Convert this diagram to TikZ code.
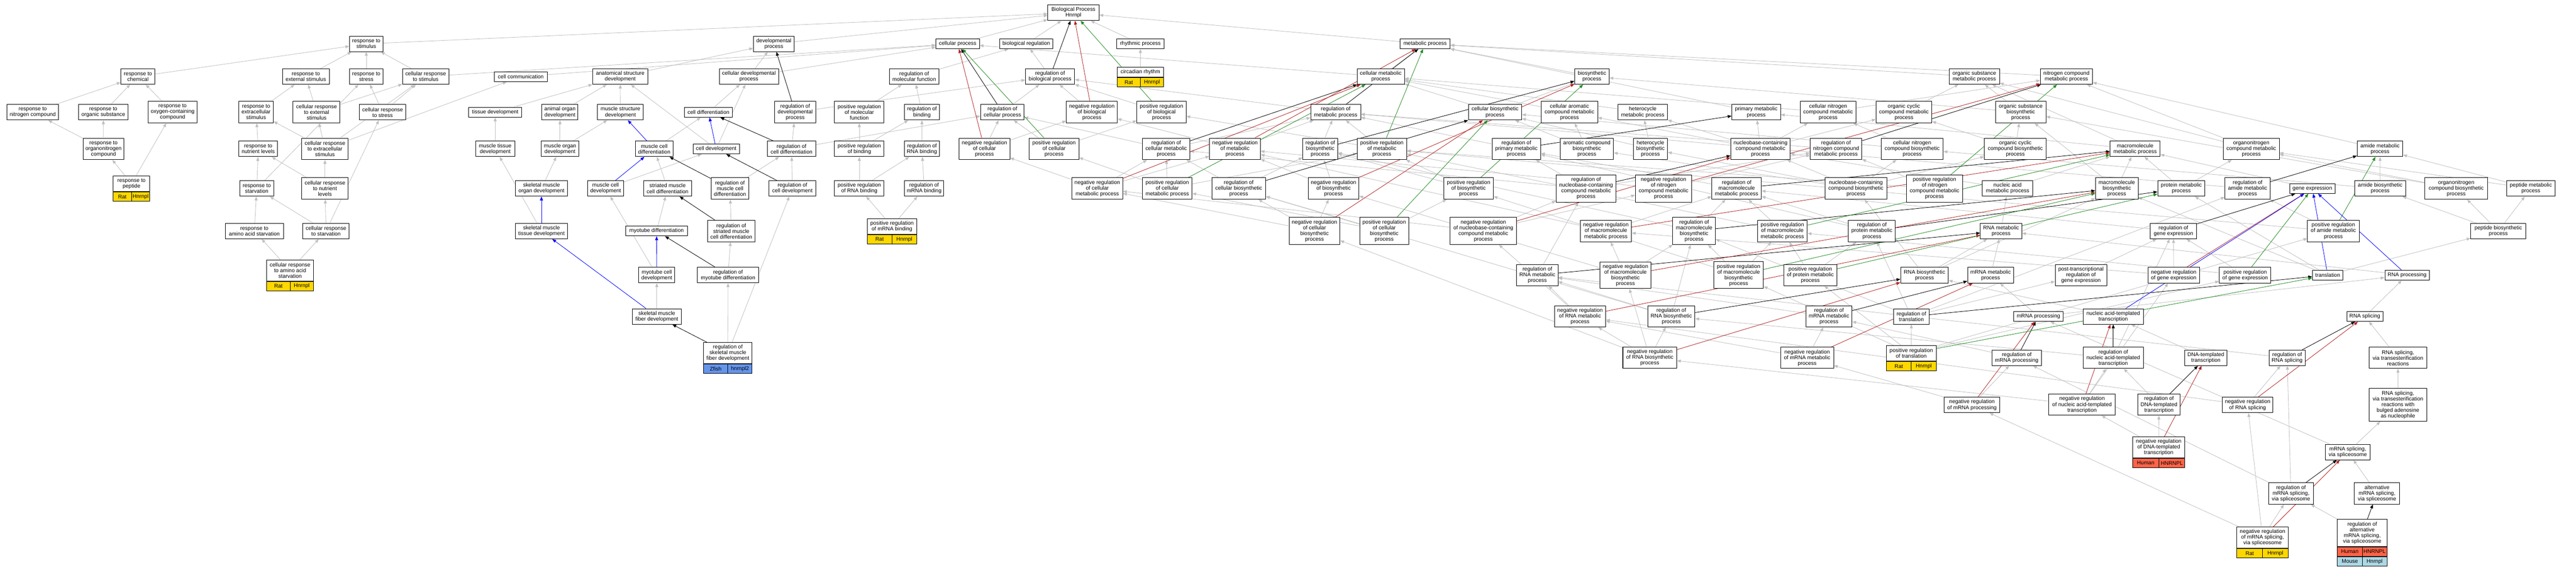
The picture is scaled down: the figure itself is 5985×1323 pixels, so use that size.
\documentclass[tikz,border=0pt]{standalone}
\usepackage{fontspec}
\setmainfont{Liberation Sans}
\usetikzlibrary{arrows.meta,backgrounds}
\definecolor{egrey}{RGB}{192,192,192}
\definecolor{ered}{RGB}{178,34,34}
\definecolor{egreen}{RGB}{34,139,34}
\definecolor{eblue}{RGB}{0,0,255}
\definecolor{cgold}{RGB}{255,215,0}
\definecolor{ctomato}{RGB}{255,99,71}
\definecolor{clblue}{RGB}{173,216,230}
\definecolor{ccorn}{RGB}{100,149,237}
\newcommand\gonode[6]{\node[gobox,minimum width=#4,minimum height=#5] (#1) at (#2,#3) {#6};}
\newcommand\gotab[9]{%
  \node[gobox,minimum width=#4,minimum height=#5] (#1) at (#2,#3) {#6};
  \node[gocell,fill=#7,minimum width=#4/2,anchor=north west] (#1-s) at (#1.south west) {#8};
  \node[gocell,fill=#7,minimum width=#4/2,anchor=north east] (#1-g) at (#1.south east) {#9};}
\begin{document}
\begin{tikzpicture}[x=1pt,y=-1pt,
  gobox/.style={draw=black,line width=1.2pt,fill=white,inner sep=0pt,align=center,font=\fontsize{12.5}{13.2}\selectfont},
  gocell/.style={draw=black,line width=1.2pt,inner sep=0pt,minimum height=21.6,font=\fontsize{12.5}{13.2}\selectfont},
  isa/.style={draw=egrey,line width=1pt,-{Triangle[length=9pt,width=7pt]}},
  regl/.style={isa,draw=black},
  negl/.style={isa,draw=ered},
  posl/.style={isa,draw=egreen},
  partl/.style={isa,draw=eblue}]
\useasboundingbox (0,0) rectangle (5985,1323);
% ---------- response branch
\gonode{stim}{851}{101.8}{78}{36}{response to\\stimulus}
\gonode{chem}{320.5}{177.7}{79}{36}{response to\\chemical}
\gonode{extstim}{710.5}{177.7}{109}{36}{response to\\external stimulus}
\gonode{stress}{851}{177.7}{78}{36}{response to\\stress}
\gonode{cellstim}{989}{177.7}{108}{36}{cellular response\\to stimulus}
\gonode{nitro}{76}{260.7}{120}{36}{response to\\nitrogen compound}
\gonode{orgsub}{240}{260.7}{116}{36}{response to\\organic substance}
\gonode{oxy}{401}{260.5}{114}{50}{response to\\oxygen-containing\\compound}
\gonode{orgN}{240.5}{345.8}{95}{50}{response to\\organonitrogen\\compound}
\gotab{peptide}{305.5}{426.7}{85}{36}{response to\\peptide}{cgold}{Rat}{Hnrnpl}
\gonode{extrac}{595}{260.5}{80}{50}{response to\\extracellular\\stimulus}
\gonode{cellext}{735.5}{260.5}{109}{50}{cellular response\\to external\\stimulus}
\gonode{cellstress}{889}{260.7}{108}{36}{cellular response\\to stress}
\gonode{nutr}{600}{345.8}{90}{36}{response to\\nutrient levels}
\gonode{cellextrac}{755}{345.8}{108}{50}{cellular response\\to extracellular\\stimulus}
\gonode{starv}{596.5}{437.8}{79}{36}{response to\\starvation}
\gonode{cellnutr}{755}{437.8}{108}{50}{cellular response\\to nutrient\\levels}
\gonode{aastarv}{591}{536.6}{135}{36}{response to\\amino acid starvation}
\gonode{cellstarv}{757.5}{536.6}{108}{36}{cellular response\\to starvation}
\gotab{cellaa}{674}{628}{108}{49}{cellular response\\to amino acid\\starvation}{cgold}{Rat}{Hnrnpl}
% ---------- development branch
\gonode{comm}{1210}{178}{123}{23}{cell communication}
\gonode{anat}{1441}{177.7}{128}{36}{anatomical structure\\development}
\gonode{celldevproc}{1740}{177.7}{138}{36}{cellular developmental\\process}
\gonode{devproc}{1798}{101.8}{95}{36}{developmental\\process}
\gonode{tissue}{1150.5}{260.7}{123}{23}{tissue development}
\gonode{animalorg}{1301}{260.7}{84}{36}{animal organ\\development}
\gonode{musstruct}{1441.5}{260.7}{107}{36}{muscle structure\\development}
\gonode{celldiff}{1646}{260.7}{112}{23}{cell differentiation}
\gonode{regdev}{1847.5}{260.5}{95}{50}{regulation of\\developmental\\process}
\gonode{posregmol}{1996.5}{260.5}{115}{50}{positive regulation\\of molecular\\function}
\gonode{musctissue}{1150.5}{345.8}{91}{36}{muscle tissue\\development}
\gonode{muscorgan}{1301}{345.8}{88}{36}{muscle organ\\development}
\gonode{muscdiff}{1520}{345.8}{88}{36}{muscle cell\\differentiation}
\gonode{celldev}{1664}{346}{108}{23}{cell development}
\gonode{regcelldiff}{1839}{345.8}{112}{36}{regulation of\\cell differentiation}
\gonode{posregbind}{1996.5}{345.8}{115}{36}{positive regulation\\of binding}
\gonode{skorgan}{1258}{437.8}{120}{36}{skeletal muscle\\organ development}
\gonode{muscdev}{1407}{437.8}{84}{36}{muscle cell\\development}
\gonode{strdiff}{1551}{437.8}{111}{36}{striated muscle\\cell differentiation}
\gonode{regmuscdiff}{1696}{437.8}{88}{50}{regulation of\\muscle cell\\differentiation}
\gonode{regcelldev}{1841}{437.8}{108}{36}{regulation of\\cell development}
\gonode{posregRNAbind}{1996.5}{437.8}{115}{36}{positive regulation\\of RNA binding}
\gonode{sktissue}{1258}{536.6}{122}{36}{skeletal muscle\\tissue development}
\gonode{myodiff}{1525.5}{536.6}{143}{23}{myotube differentiation}
\gonode{regstrdiff}{1699}{536.6}{111}{50}{regulation of\\striated muscle\\cell differentiation}
\gonode{myodev}{1526}{639}{84}{36}{myotube cell\\development}
\gonode{regmyodiff}{1691.5}{639}{143}{36}{regulation of\\myotube differentiation}
\gonode{skfiber}{1526}{735}{114}{36}{skeletal muscle\\fiber development}
\gotab{regskfiber}{1691}{820}{113}{49}{regulation of\\skeletal muscle\\fiber development}{ccorn}{Zfish}{hnrnpl2}
% ---------- regulation branch
\gonode{BP}{2494}{29.6}{119}{36}{Biological Process\\Hnrnpl}
\gonode{cellproc}{2225}{101.7}{101}{23}{cellular process}
\gonode{bioreg}{2384.5}{101.7}{124}{23}{biological regulation}
\gonode{rhythm}{2649.5}{101.7}{110}{23}{rhythmic process}
\gonode{regmol}{2124}{177.7}{116}{36}{regulation of\\molecular function}
\gonode{regbio}{2439.7}{177.7}{114}{36}{regulation of\\biological process}
\gotab{circ}{2649.5}{167.6}{108}{23}{circadian rhythm}{cgold}{Rat}{Hnrnpl}
\gonode{regbind}{2142}{260.7}{81}{36}{regulation of\\binding}
\gonode{regcellproc}{2329}{260.7}{101}{36}{regulation of\\cellular process}
\gonode{negregbio}{2536.7}{260.5}{118}{50}{negative regulation\\of biological\\process}
\gonode{posregbio}{2698.6}{260.5}{114}{50}{positive regulation\\of biological\\process}
\gonode{regRNAbind}{2142}{345.8}{81}{36}{regulation of\\RNA binding}
\gonode{negcellproc}{2287.3}{345.8}{118}{50}{negative regulation\\of cellular\\process}
\gonode{poscellproc}{2449}{345.8}{115}{50}{positive regulation\\of cellular\\process}
\gonode{regcellmet}{2709.5}{345.8}{110}{50}{regulation of\\cellular metabolic\\process}
\gonode{negmet}{2869.3}{345.8}{118}{50}{negative regulation\\of metabolic\\process}
\gonode{regmRNAbind}{2147}{437.8}{91}{36}{regulation of\\mRNA binding}
\gotab{posregmRNAbind}{2072.4}{525.9}{115}{36}{positive regulation\\of mRNA binding}{cgold}{Rat}{Hnrnpl}
\gonode{negcellmet}{2549.4}{437.8}{118}{50}{negative regulation\\of cellular\\metabolic process}
\gonode{poscellmet}{2712}{437.8}{115}{50}{positive regulation\\of cellular\\metabolic process}
\gonode{regcellbio}{2878}{437.8}{125}{50}{regulation of\\cellular biosynthetic\\process}
% ---------- metabolic
\gonode{met}{3311}{101.7}{116}{23}{metabolic process}
\gonode{cellmet}{3208}{177.7}{110}{36}{cellular metabolic\\process}
\gonode{biosyn}{3698.6}{177.7}{80}{36}{biosynthetic\\process}
\gonode{regmet}{3103.3}{260.7}{116}{36}{regulation of\\metabolic process}
\gonode{cellbiosyn}{3473.5}{260.7}{124}{36}{cellular biosynthetic\\process}
\gonode{cellarom}{3646.4}{260.5}{131}{50}{cellular aromatic\\compound metabolic\\process}
\gonode{hetero}{3816.7}{260.7}{115}{36}{heterocycle\\metabolic process}
\gonode{regbiosyn}{3067.3}{345.8}{81}{50}{regulation of\\biosynthetic\\process}
\gonode{posmet}{3210.5}{345.8}{115}{50}{positive regulation\\of metabolic\\process}
\gonode{regprimary}{3523}{345.8}{113}{50}{regulation of\\primary metabolic\\process}
\gonode{arombio}{3686.8}{345.8}{124}{50}{aromatic compound\\biosynthetic\\process}
\gonode{heterobio}{3834.5}{345.8}{80}{50}{heterocycle\\biosynthetic\\process}
\gonode{negbiosyn}{3098.3}{437.8}{118}{50}{negative regulation\\of biosynthetic\\process}
\gonode{posbiosyn}{3412}{437.8}{115}{50}{positive regulation\\of biosynthetic\\process}
\gonode{regnuc}{3685}{437.8}{139}{63}{regulation of\\nucleobase-containing\\compound metabolic\\process}
\gonode{negnitro}{3865}{437.8}{131}{63}{negative regulation\\of nitrogen\\compound metabolic\\process}
\gonode{regmacro}{4034.8}{437.8}{115}{50}{regulation of\\macromolecule\\metabolic process}
\gonode{negcellbio}{3054}{536.2}{118}{63}{negative regulation\\of cellular\\biosynthetic\\process}
\gonode{poscellbio}{3216}{536.2}{114}{63}{positive regulation\\of cellular\\biosynthetic\\process}
\gonode{negnuc}{3446.3}{536.2}{154}{63}{negative regulation\\of nucleobase-containing\\compound metabolic\\process}
\gonode{negmacro}{3731}{536.6}{119}{50}{negative regulation\\of macromolecule\\metabolic process}
\gonode{regmacrobio}{3936}{536.2}{99}{63}{regulation of\\macromolecule\\biosynthetic\\process}
\gonode{regRNAmet}{3571.8}{638.8}{96}{49}{regulation of\\RNA metabolic\\process}
\gonode{negmacrobio}{3776.5}{639.2}{118}{62}{negative regulation\\of macromolecule\\biosynthetic\\process}
\gonode{posmacrobio}{4039.5}{639}{115}{62}{positive regulation\\of macromolecule\\biosynthetic\\process}
\gonode{negRNAmet}{3671}{735}{119}{49}{negative regulation\\of RNA metabolic\\process}
\gonode{regRNAbio}{3883}{735}{110}{49}{regulation of\\RNA biosynthetic\\process}
\gonode{negRNAbio}{3833}{831}{125}{49}{negative regulation\\of RNA biosynthetic\\process}
\gonode{orgsubmet}{4587}{177.7}{117}{36}{organic substance\\metabolic process}
\gonode{nitromet}{4801}{177.7}{121}{36}{nitrogen compound\\metabolic process}
\gonode{primary}{4080.3}{260.7}{113}{36}{primary metabolic\\process}
\gonode{cellN}{4247.4}{260.5}{130}{50}{cellular nitrogen\\compound metabolic\\process}
\gonode{orgcyc}{4423.5}{260.5}{130}{50}{organic cyclic\\compound metabolic\\process}
\gonode{orgsubbio}{4694.9}{260.5}{117}{50}{organic substance\\biosynthetic\\process}
\gonode{nuc}{4090.2}{345.8}{138}{50}{nucleobase-containing\\compound metabolic\\process}
\gonode{regnitro}{4265.7}{345.8}{120}{50}{regulation of\\nitrogen compound\\metabolic process}
\gonode{cellNbio}{4442.6}{345.8}{144}{50}{cellular nitrogen\\compound biosynthetic\\process}
\gonode{orgcycbio}{4682.4}{345.8}{144}{50}{organic cyclic\\compound biosynthetic\\process}
\gonode{macromet}{4960.6}{345.8}{116}{36}{macromolecule\\metabolic process}
\gonode{nucbio}{4311.9}{437.8}{144}{50}{nucleobase-containing\\compound biosynthetic\\process}
\gonode{posnitro}{4494.6}{437.8}{131}{63}{positive regulation\\of nitrogen\\compound metabolic\\process}
\gonode{nucacid}{4664.3}{437.8}{117}{36}{nucleic acid\\metabolic process}
\gonode{macrobio}{4918}{437.8}{99}{50}{macromolecule\\biosynthetic\\process}
\gonode{posmacro}{4141}{536.6}{116}{50}{positive regulation\\of macromolecule\\metabolic process}
\gonode{regprotmet}{4349.1}{536.6}{109}{50}{regulation of\\protein metabolic\\process}
\gonode{RNAmet}{4649.2}{536.6}{96}{36}{RNA metabolic\\process}
\gonode{reggene}{5049.7}{536.6}{107}{36}{regulation of\\gene expression}
\gonode{posprotmet}{4206}{638.8}{124}{49}{positive regulation\\of protein metabolic\\process}
\gonode{RNAbio}{4471.3}{639.2}{111}{36}{RNA biosynthetic\\process}
\gonode{mRNAmet}{4625}{639.2}{107}{36}{mRNA metabolic\\process}
\gonode{posttrans}{4834.8}{638.8}{120}{49}{post-transcriptional\\regulation of\\gene expression}
\gonode{neggene}{5050.3}{639.2}{120}{36}{negative regulation\\of gene expression}
\gonode{regmRNAmet}{4249.4}{735.2}{107}{49}{regulation of\\mRNA metabolic\\process}
\gonode{regtransl}{4440.8}{735}{82}{36}{regulation of\\translation}
\gonode{mRNAproc}{4736}{735}{115}{23}{mRNA processing}
\gonode{NAtrans}{4909.8}{735}{140}{36}{nucleic acid-templated\\transcription}
\gonode{negmRNAmet}{4198.6}{831.2}{123}{49}{negative regulation\\of mRNA metabolic\\process}
\gotab{postransl}{4440.6}{820.5}{116}{36}{positive regulation\\of translation}{cgold}{Rat}{Hnrnpl}
\gonode{regmRNAproc}{4685.6}{831}{115}{36}{regulation of\\mRNA processing}
\gonode{regNAtrans}{4909.8}{831.2}{140}{49}{regulation of\\nucleic acid-templated\\transcription}
\gonode{negmRNAproc}{4581.6}{940.6}{129}{36}{negative regulation\\of mRNA processing}
\gonode{negNAtrans}{4837.3}{940}{154}{49}{negative regulation\\of nucleic acid-templated\\transcription}
\gonode{regDNAtrans}{5016}{940}{98}{49}{regulation of\\DNA-templated\\transcription}
\gotab{negDNAtrans}{5015.5}{1038.9}{121.5}{49}{negative regulation\\of DNA-templated\\transcription}{ctomato}{Human}{HNRNPL}
\gonode{orgNmet}{5230.5}{345.8}{130}{50}{organonitrogen\\compound metabolic\\process}
\gonode{amidemet}{5529.6}{345.8}{106}{36}{amide metabolic\\process}
\gonode{protmet}{5068}{437.8}{110}{36}{protein metabolic\\process}
\gonode{regamide}{5222}{437.8}{105}{50}{regulation of\\amide metabolic\\process}
\gonode{geneexp}{5372.4}{437.8}{105}{23}{gene expression}
\gonode{amidebio}{5530}{437.8}{119}{36}{amide biosynthetic\\process}
\gonode{orgNbio}{5706.6}{437.8}{145}{50}{organonitrogen\\compound biosynthetic\\process}
\gonode{peptidemet}{5880}{437.8}{113}{36}{peptide metabolic\\process}
\gonode{posamide}{5421.2}{536.6}{120}{50}{positive regulation\\of amide metabolic\\process}
\gonode{peptidebio}{5804.5}{536.6}{128}{36}{peptide biosynthetic\\process}
\gonode{posgene}{5216.3}{639.2}{120}{36}{positive regulation\\of gene expression}
\gonode{transl}{5408}{639}{71}{23}{translation}
\gonode{RNAproc}{5592.4}{639}{103}{23}{RNA processing}
\gonode{RNAsplic}{5494.3}{735}{84}{23}{RNA splicing}
\gonode{DNAtrans}{5125}{831}{99}{36}{DNA-templated\\transcription}
\gonode{regRNAsplic}{5313.8}{831}{84}{36}{regulation of\\RNA splicing}
\gonode{transest}{5571.3}{831.2}{135}{49}{RNA splicing,\\via transesterification\\reactions}
\gonode{negRNAsplic}{5222}{940.6}{118}{36}{negative regulation\\of RNA splicing}
\gonode{bulged}{5571.3}{940.4}{135}{76}{RNA splicing,\\via transesterification\\reactions with\\bulged adenosine\\as nucleophile}
\gonode{mRNAsplic}{5454.7}{1049.8}{104}{36}{mRNA splicing,\\via spliceosome}
\gonode{regmRNAsplic}{5322.7}{1146}{104}{50}{regulation of\\mRNA splicing,\\via spliceosome}
\gonode{altsplic}{5522.6}{1146}{105}{50}{alternative\\mRNA splicing,\\via spliceosome}
\gotab{negmRNAsplic}{5256.7}{1248.5}{119}{49}{negative regulation\\of mRNA splicing,\\via spliceosome}{cgold}{Rat}{Hnrnpl}
\gotab{regaltsplic}{5488.2}{1237.7}{115}{63}{regulation of\\alternative\\mRNA splicing,\\via spliceosome}{ctomato}{Human}{HNRNPL}
\node[gocell,fill=clblue,minimum width=57.5,anchor=north west] (regaltsplic-ms) at (regaltsplic-s.south west) {Mouse};
\node[gocell,fill=clblue,minimum width=57.5,anchor=north east] (regaltsplic-mg) at (regaltsplic-g.south east) {Hnrnpl};
% ---------- edges
\begin{pgfonlayer}{background}
\fill[white] (0,0) rectangle (5985,1323);
\foreach \a/\b in {stim/BP,chem/stim,extstim/stim,stress/stim,cellstim/stim,cellstim/cellproc,
 nitro/chem,orgsub/chem,oxy/chem,orgN/nitro,orgN/orgsub,peptide/orgN,peptide/oxy,
 extrac/extstim,cellext/extstim,cellext/cellstim,cellstress/stress,cellstress/cellstim,
 nutr/extrac,cellextrac/extrac,cellextrac/cellext,cellextrac/cellstim,cellextrac/comm,
 starv/nutr,starv/stress,cellnutr/nutr,cellnutr/cellextrac,aastarv/starv,
 cellstarv/starv,cellstarv/cellnutr,cellstarv/cellstress,cellaa/aastarv,cellaa/cellstarv,
 comm/cellproc,devproc/BP,anat/devproc,celldevproc/devproc,celldevproc/cellproc,regdev/regbio,
 tissue/anat,animalorg/anat,musstruct/anat,celldiff/celldevproc,
 musctissue/tissue,muscorgan/animalorg,muscorgan/musstruct,muscdiff/celldiff,
 celldev/anat,celldev/celldevproc,regcelldiff/regdev,regcelldiff/regcellproc,
 skorgan/muscorgan,muscdev/celldev,strdiff/muscdiff,regmuscdiff/regcelldiff,regcelldev/regcelldiff,
 sktissue/musctissue,myodiff/strdiff,regstrdiff/regmuscdiff,myodev/muscdev,regmyodiff/regstrdiff,
 skfiber/myodev,regskfiber/regmyodiff,regskfiber/regcelldev,
 bioreg/BP,rhythm/BP,circ/rhythm,met/BP,cellproc/BP,
 regbio/bioreg,regmol/bioreg,posregmol/regmol,
 regbind/regmol,posregbind/regbind,posregbind/posregmol,regRNAbind/regbind,
 posregRNAbind/regRNAbind,posregRNAbind/posregbind,regmRNAbind/regRNAbind,
 posregmRNAbind/regmRNAbind,posregmRNAbind/posregRNAbind,
 regcellproc/regbio,negregbio/regbio,posregbio/regbio,
 negcellproc/regcellproc,negcellproc/negregbio,poscellproc/regcellproc,poscellproc/posregbio,
 regcellmet/regcellproc,regcellmet/regmet,negmet/regmet,negmet/negregbio,
 negcellmet/regcellmet,negcellmet/negcellproc,negcellmet/negmet,
 poscellmet/regcellmet,poscellmet/poscellproc,poscellmet/posmet,
 regcellbio/regcellmet,regcellbio/regbiosyn,regmet/regbio,
 regbiosyn/regmet,posmet/regmet,posmet/posregbio,
 negbiosyn/regbiosyn,negbiosyn/negmet,posbiosyn/regbiosyn,posbiosyn/posmet,
 negcellbio/regcellbio,negcellbio/negcellmet,negcellbio/negbiosyn,
 poscellbio/regcellbio,poscellbio/poscellmet,poscellbio/posbiosyn,
 regprimary/regmet,regnuc/regcellmet,regnuc/regprimary,regnuc/regnitro,
 negnitro/regnitro,negnitro/negmet,regmacro/regprimary,
 negnuc/regnuc,negnuc/negcellmet,negnuc/negnitro,negmacro/regmacro,negmacro/negmet,
 regmacrobio/regmacro,regmacrobio/regbiosyn,regRNAmet/regnuc,
 negmacrobio/regmacrobio,negmacrobio/negmacro,negmacrobio/negbiosyn,
 posmacrobio/regmacrobio,posmacrobio/posmacro,posmacrobio/posbiosyn,
 negRNAmet/regRNAmet,negRNAmet/negnuc,
 regRNAbio/regRNAmet,regRNAbio/regcellbio,regRNAbio/regmacrobio,
 negRNAbio/regRNAbio,negRNAbio/negRNAmet,negRNAbio/negcellbio,negRNAbio/negmacrobio,
 regnitro/regmet,posnitro/regnitro,posnitro/posmet,posmacro/regmacro,posmacro/posmet,
 regprotmet/regmacro,regprotmet/regprimary,posprotmet/regprotmet,posprotmet/posmacro,
 reggene/regmacro,neggene/reggene,neggene/negmacro,posgene/reggene,posgene/posmacro,
 regamide/regmet,posamide/regamide,posamide/posmet,posttrans/reggene,
 regmRNAmet/regRNAmet,regtransl/posttrans,regtransl/regprotmet,regtransl/regmacrobio,regtransl/regamide,
 postransl/regtransl,postransl/posprotmet,postransl/posmacrobio,postransl/posamide,postransl/posgene,
 regmRNAproc/regmRNAmet,regNAtrans/regRNAbio,regNAtrans/reggene,
 negmRNAmet/regmRNAmet,negmRNAmet/negRNAmet,negmRNAproc/regmRNAproc,negmRNAproc/negmRNAmet,
 negNAtrans/regNAtrans,negNAtrans/negRNAbio,negNAtrans/neggene,regDNAtrans/regNAtrans,
 negDNAtrans/regDNAtrans,negDNAtrans/negNAtrans,
 regRNAsplic/regRNAmet,negRNAsplic/regRNAsplic,negRNAsplic/negRNAmet,
 regmRNAsplic/regRNAsplic,regmRNAsplic/regmRNAproc,
 negmRNAsplic/regmRNAsplic,negmRNAsplic/negRNAsplic,negmRNAsplic/negmRNAproc,regaltsplic/regmRNAsplic,
 cellmet/met,cellmet/cellproc,biosyn/met,cellbiosyn/biosyn,cellbiosyn/cellmet,
 cellarom/cellmet,hetero/cellmet,primary/met,orgsubmet/met,nitromet/met,
 cellN/nitromet,cellN/cellmet,orgcyc/orgsubmet,orgsubbio/orgsubmet,orgsubbio/biosyn,
 arombio/cellarom,arombio/cellbiosyn,heterobio/hetero,heterobio/cellbiosyn,
 nuc/cellarom,nuc/hetero,nuc/cellN,nuc/orgcyc,nuc/primary,
 cellNbio/cellN,cellNbio/cellbiosyn,orgcycbio/orgcyc,orgcycbio/orgsubbio,
 macromet/primary,macromet/orgsubmet,
 nucbio/nuc,nucbio/arombio,nucbio/heterobio,nucbio/cellNbio,nucbio/orgcycbio,
 nucacid/nuc,nucacid/macromet,macrobio/macromet,macrobio/orgsubbio,RNAmet/nucacid,
 RNAbio/RNAmet,RNAbio/nucbio,RNAbio/macrobio,mRNAmet/RNAmet,mRNAproc/mRNAmet,mRNAproc/RNAproc,
 NAtrans/RNAbio,DNAtrans/NAtrans,geneexp/macromet,protmet/macromet,protmet/orgNmet,
 orgNmet/nitromet,orgNmet/orgsubmet,amidemet/nitromet,amidebio/amidemet,amidebio/cellNbio,
 orgNbio/orgNmet,orgNbio/orgsubbio,peptidemet/amidemet,peptidemet/orgNmet,
 peptidebio/amidebio,peptidebio/peptidemet,peptidebio/orgNbio,
 transl/peptidebio,transl/protmet,transl/macrobio,RNAproc/RNAmet,RNAsplic/RNAproc,
 transest/RNAsplic,bulged/transest,mRNAsplic/bulged,mRNAsplic/mRNAproc,altsplic/mRNAsplic}
 \draw[isa] (\a) -- (\b);
\foreach \a/\b in {regbio/BP,regcellproc/cellproc,regdev/devproc,regcelldiff/celldiff,regmuscdiff/muscdiff,
 regcelldev/celldev,regstrdiff/strdiff,regmyodiff/myodiff,regskfiber/skfiber,regmet/met,regcellmet/cellmet,
 regbiosyn/biosyn,regcellbio/cellbiosyn,regprimary/primary,regnitro/nitromet,regnuc/nuc,regmacro/macromet,
 regmacrobio/macrobio,regRNAmet/RNAmet,regRNAbio/RNAbio,regprotmet/protmet,reggene/geneexp,regamide/amidemet,
 regmRNAmet/mRNAmet,regtransl/transl,regmRNAproc/mRNAproc,regNAtrans/NAtrans,regDNAtrans/DNAtrans,
 regRNAsplic/RNAsplic,regmRNAsplic/mRNAsplic,regaltsplic/altsplic}
 \draw[regl] (\a) -- (\b);
\foreach \a/\b in {negregbio/BP,negcellproc/cellproc,negmet/met,negcellmet/cellmet,negbiosyn/biosyn,
 negcellbio/cellbiosyn,negnuc/nuc,negnitro/nitromet,negmacro/macromet,negmacrobio/macrobio,negRNAmet/RNAmet,
 negRNAbio/RNAbio,neggene/geneexp,negmRNAmet/mRNAmet,negmRNAproc/mRNAproc,negNAtrans/NAtrans,
 negDNAtrans/DNAtrans,negRNAsplic/RNAsplic,negmRNAsplic/mRNAsplic}
 \draw[negl] (\a) -- (\b);
\foreach \a/\b in {posregbio/BP,poscellproc/cellproc,posmet/met,poscellmet/cellmet,posbiosyn/biosyn,
 poscellbio/cellbiosyn,posnitro/nitromet,posmacro/macromet,posmacrobio/macrobio,posprotmet/protmet,
 posgene/geneexp,posamide/amidemet,postransl/transl}
 \draw[posl] (\a) -- (\b);
\foreach \a/\b in {muscdiff/musstruct,celldev/celldiff,muscdev/muscdiff,sktissue/skorgan,myodev/myodiff,
 skfiber/sktissue,NAtrans/geneexp,transl/geneexp,RNAproc/geneexp}
 \draw[partl] (\a) -- (\b);
\end{pgfonlayer}
\end{tikzpicture}
\end{document}
